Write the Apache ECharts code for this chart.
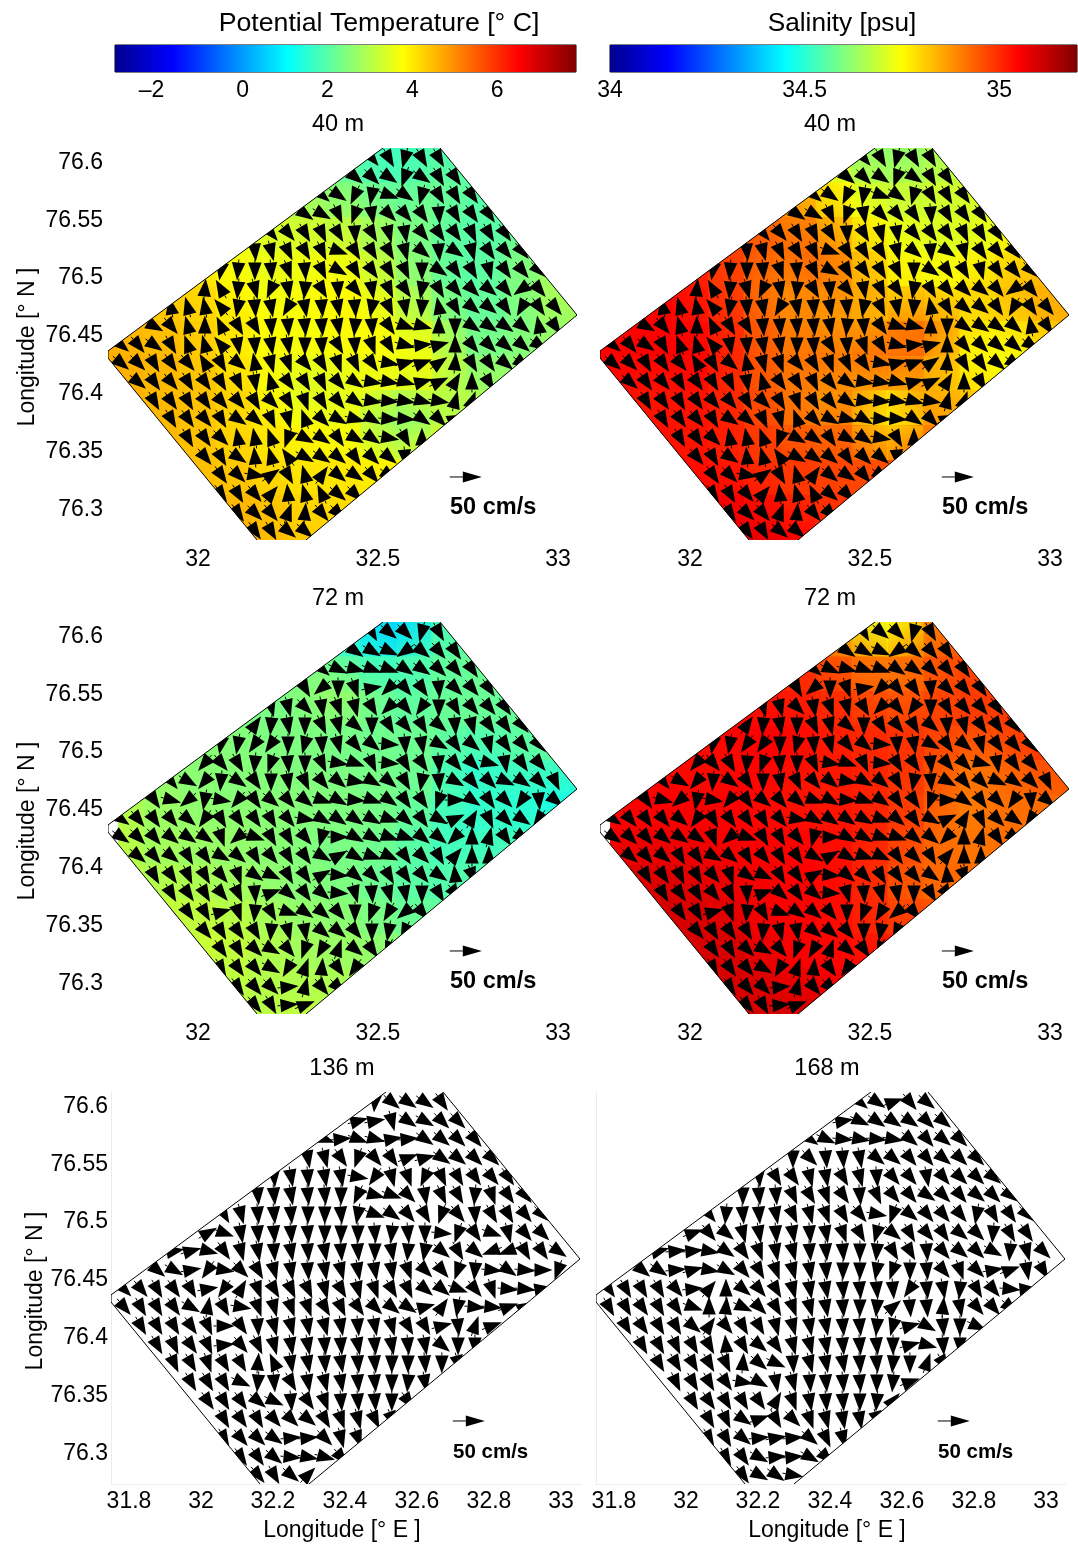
<!DOCTYPE html>
<html><head><meta charset="utf-8">
<style>html,body{margin:0;padding:0;background:#fff}#c{width:1078px;height:1545px}</style>
<script src="https://cdn.jsdelivr.net/npm/echarts@6/dist/echarts.min.js"></script>
</head><body><div id="c"></div><script>
const FONT='"Liberation Sans",Arial,sans-serif';
const xTicksTop=[32,32.5,33];
const xTicksBottom=[31.8,32,32.2,32.4,32.6,32.8,33];
const yTicks=[76.3,76.35,76.4,76.45,76.5,76.55,76.6];
const tempTicks=[-2,0,2,4,6];
const salTicks=[34,34.5,35];
const tempRange=[-3.01,7.86];
const salRange=[34,35.2];
const depthLabels=['40 m','40 m','72 m','72 m','136 m','168 m'];

const arrowLons=[31.786,31.833,31.878,31.925,31.972,32.019,32.064,32.111,32.158,32.203,32.25,32.297,32.344,32.389,32.436,32.483,32.53,32.575,32.622,32.669,32.714,32.761,32.808,32.853,32.9,32.947,32.992,33.039];
const arrowLats=[76.6017,76.5853,76.5697,76.5533,76.5369,76.5213,76.5048,76.4884,76.4728,76.4564,76.44,76.4244,76.408,76.3915,76.376,76.3595,76.3431,76.3275,76.3111,76.2946,76.2791];
const rowFirstCol=[15,14,12,11,9,8,6,5,3,2,0,0,1,2,3,4,5,6,6,7,8];

// current headings, degrees clockwise from north
const heading40=[
[140,150,195,150,150],
[130,135,125,200,125,150,145],
[130,125,205,190,110,125,195,150,150,145],
[125,120,155,200,170,135,140,145,175,150,145,145],
[140,140,150,155,150,175,150,165,170,140,145,145,155,150,145],
[175,165,155,150,155,110,150,150,150,165,130,175,125,165,145,140,140],
[190,185,180,175,160,175,155,120,150,145,150,155,180,125,145,150,165,145,140,135],
[5,330,185,165,205,170,185,150,175,140,170,155,145,190,150,140,135,130,140,235,140],
[350,345,350,320,190,175,170,210,170,175,170,175,190,155,170,185,350,150,130,130,145,210,145,140],
[120,140,345,0,335,150,150,175,175,175,175,170,185,175,145,110,105,0,180,125,125,125,130,350,145],
[130,140,125,150,340,345,320,170,175,170,170,180,175,150,175,160,150,105,85,75,0,140,135,130,130,125],
[130,135,150,145,140,330,150,130,350,165,160,140,150,160,155,145,100,75,70,55,5,150,145,130,125],
[130,145,140,150,145,150,155,170,345,145,150,155,140,125,100,100,105,75,65,30,0,150],
[150,145,150,145,140,140,150,135,150,160,150,140,125,100,95,100,105,100,15,20],
[150,145,140,150,125,130,155,165,340,135,120,105,120,95,95,125,135,65],
[150,145,135,350,350,340,200,120,125,145,120,125,100,150,0],
[140,150,125,355,345,325,120,125,130,145,135,130,175],
[145,135,100,55,150,345,35,130,125,140,125],
[145,150,140,40,355,345,335,130,135],
[145,135,140,20,5,140,135],
[145,150,130,130]];
const heading72=[
[150,130,135,195,150],
[125,120,115,235,130,140,145],
[130,115,105,110,110,125,125,135,140,145],
[150,230,180,160,80,225,140,145,175,135,140,145],
[165,165,135,170,160,165,150,225,140,215,180,150,140,140,145],
[35,185,170,180,155,165,130,180,150,140,150,130,175,165,145,145,140],
[190,190,215,215,180,195,175,165,140,130,95,175,170,120,145,130,165,145,140,140],
[220,140,150,185,200,175,180,155,100,110,155,95,150,145,175,140,135,105,170,145,140],
[140,120,220,185,125,145,180,170,155,140,130,100,120,130,150,190,175,120,140,135,115,125,135,155],
[145,105,230,190,100,220,145,130,140,130,110,120,95,110,125,145,145,200,90,125,145,135,215,175,130],
[125,140,145,140,130,215,150,145,145,150,140,100,120,125,125,120,110,130,145,120,65,30,155,135,125,215],
[125,135,140,130,125,125,160,230,110,150,150,140,195,90,120,120,110,110,130,130,225,0,15,145,125],
[130,140,130,150,145,120,130,150,140,150,145,120,60,120,110,115,145,135,150,40,0,0],
[150,145,155,150,140,160,125,115,150,145,60,95,130,135,150,145,140,125,355,160],
[150,145,150,140,155,175,70,130,145,130,95,165,175,165,170,180,150,140],
[145,150,75,160,185,150,110,125,130,140,180,200,210,230,140],
[140,150,145,150,185,165,170,130,130,140,180,190,205],
[145,150,135,120,140,200,210,20,130,145,200],
[150,145,140,120,210,20,5,145,215],
[145,140,135,85,15,140,135],
[140,150,85,70]];
const heading136=[
[185,130,125,125,145],
[75,80,165,125,120,135,135],
[110,85,110,105,80,85,125,130,135,140],
[170,165,145,200,140,145,70,75,125,130,135,135],
[175,170,175,170,170,100,215,165,160,205,155,150,145,140,145],
[175,175,170,175,175,180,205,105,110,135,170,155,150,185,160,145,140],
[150,165,175,175,175,180,180,175,190,110,125,140,150,200,140,175,150,150,140,135],
[60,110,170,175,175,175,175,180,180,180,175,185,175,180,95,200,145,110,165,140,135],
[80,75,105,145,165,170,175,170,175,170,175,175,180,170,185,190,130,150,130,250,250,150,145,125],
[130,120,80,215,100,135,150,165,170,175,170,165,170,170,170,160,135,140,200,185,95,125,95,90,200],
[135,140,150,145,150,80,215,30,160,150,155,155,165,150,165,160,150,155,130,130,110,140,160,95,95,80],
[140,150,150,145,120,10,150,100,160,165,160,160,150,155,145,135,130,125,75,35,190,95,95,70,60],
[150,150,150,145,155,90,145,175,165,165,170,165,170,175,170,165,150,150,75,175,20,70],
[150,155,145,155,85,140,155,165,170,170,175,175,170,175,170,175,170,130,180,180],
[155,150,160,150,150,5,335,170,170,175,170,175,175,180,180,175,180,165],
[150,150,150,115,185,175,150,170,165,170,175,175,180,185,170],
[145,150,145,130,115,175,145,160,175,175,175,180,145],
[150,145,150,140,135,130,150,160,165,155,160],
[150,140,135,125,85,85,135,165,160],
[145,145,130,95,100,105,140],
[140,150,130,45]];
const heading168=[
[130,125,70,140,130],
[80,115,125,125,125,135,130],
[125,115,95,100,95,100,130,140,130,135],
[180,135,175,175,170,130,130,140,140,130,135,135],
[175,150,145,165,170,150,165,175,140,140,170,140,135,135,130],
[180,175,175,155,150,160,145,175,155,140,140,125,135,140,130,135,130],
[140,185,175,175,170,155,165,160,150,140,100,200,130,140,140,140,190,150,145,135],
[70,140,130,165,170,175,170,175,170,160,150,195,130,150,140,145,130,135,185,150,145],
[75,85,85,100,125,145,160,170,165,175,175,175,180,185,150,150,175,140,130,135,120,185,165,135],
[130,125,85,75,100,120,140,150,160,165,170,175,180,180,190,200,180,175,140,160,135,80,70,170,150],
[145,150,150,150,140,85,40,0,130,140,150,165,170,170,175,175,175,175,215,175,170,185,150,140,95,85],
[150,150,145,150,145,110,0,5,115,135,150,160,165,170,175,180,185,50,175,175,5,170,140,140,130],
[150,145,150,150,130,35,140,150,150,165,165,170,170,175,175,185,195,75,120,175,180,115],
[150,150,155,150,150,355,150,130,145,165,165,170,175,175,175,180,75,105,175,180],
[150,150,150,150,155,5,130,115,175,165,170,170,175,175,185,180,20,150],
[155,150,150,145,100,120,170,165,175,175,175,175,180,185,70],
[150,145,150,150,145,30,160,170,175,175,180,185,40],
[150,155,125,70,150,135,160,165,170,170,165],
[150,150,130,85,80,85,130,155,165],
[150,145,120,85,85,120,135],
[145,120,125,100]];
const speed40=33, speed72=33, speed136=33, speed168=33;
const scaleArrow=[32.744,76.3258,90,50];
const scaleLabelPos=[32.7,76.299];

// colour fields on a coarse lon/lat table
const heatLons=[31.75,31.85,31.95,32.05,32.15,32.25,32.35,32.45,32.55,32.65,32.75,32.85,32.95,33.05];
const heatLats=[76.61,76.58,76.55,76.52,76.49,76.46,76.43,76.40,76.37,76.34,76.31,76.28,76.25];
const temp40=[
[2.6,2.6,2.6,2.5,2.4,2.2,2.0,1.8,1.7,1.8,1.9,2.0,2.0,2.0],
[3.2,3.2,3.2,3.0,2.8,2.6,2.4,2.2,1.8,2.3,2.0,2.0,2.0,2.0],
[3.6,3.6,3.6,3.4,3.3,3.2,3.0,2.8,2.5,2.2,2.0,2.0,2.2,2.2],
[4.0,4.0,4.0,3.8,3.6,3.5,3.6,3.4,2.6,2.3,1.9,2.2,2.5,2.6],
[4.3,4.3,4.3,4.0,3.6,3.6,3.8,3.8,3.0,2.4,2.0,2.2,2.8,3.0],
[4.6,4.4,4.4,4.2,3.9,3.7,3.8,3.9,3.6,3.0,2.2,2.2,2.6,2.8],
[4.7,4.6,4.5,4.2,3.8,3.7,3.6,3.7,3.7,3.8,2.4,2.5,2.6,2.8],
[4.7,4.5,4.5,4.4,4.1,3.4,3.4,3.6,3.4,3.2,2.9,2.8,2.8,2.8],
[4.7,4.6,4.5,4.3,4.1,3.9,3.7,3.5,2.0,3.0,3.0,3.0,3.0,3.0],
[4.6,4.6,4.5,4.4,4.2,4.0,4.0,3.9,3.8,3.6,3.4,3.4,3.4,3.4],
[4.6,4.6,4.5,4.5,4.5,4.2,4.1,4.1,4.0,3.9,3.8,3.8,3.8,3.8],
[4.6,4.6,4.6,4.6,4.6,4.4,4.3,4.2,4.2,4.1,4.0,4.0,4.0,4.0],
[4.6,4.6,4.6,4.6,4.6,4.4,4.3,4.2,4.2,4.1,4.0,4.0,4.0,4.0]];
const sal40=[
[34.85,34.85,34.85,34.85,34.8,34.75,34.7,34.62,34.6,34.62,34.65,34.65,34.65,34.65],
[34.95,34.95,34.95,34.92,34.88,34.85,34.8,34.7,34.66,34.68,34.7,34.7,34.7,34.7],
[35.0,35.0,35.0,34.97,34.95,34.92,34.85,34.78,34.72,34.7,34.7,34.72,34.75,34.75],
[35.03,35.03,35.03,35.0,34.97,34.92,34.95,34.85,34.75,34.73,34.72,34.75,34.8,34.8],
[35.05,35.05,35.05,35.0,34.95,34.88,34.9,34.88,34.8,34.75,34.78,34.82,34.85,34.85],
[35.05,35.05,35.05,35.03,34.98,34.9,34.88,34.85,34.85,34.95,34.8,34.78,34.82,34.85],
[35.05,35.05,35.05,35.05,34.98,34.92,34.92,34.92,34.95,34.9,34.78,34.72,34.75,34.8],
[35.05,35.03,35.03,35.03,34.98,34.92,34.88,34.86,34.82,34.85,34.8,34.78,34.78,34.78],
[35.05,35.03,35.03,35.03,35.0,34.95,34.9,34.92,34.7,34.88,34.88,34.88,34.88,34.88],
[35.05,35.05,35.03,35.03,35.0,34.98,34.98,34.95,34.95,34.95,34.95,34.95,34.95,34.95],
[35.05,35.05,35.05,35.05,35.05,35.0,34.98,34.98,34.98,34.98,34.98,34.98,34.98,34.98],
[35.07,35.07,35.07,35.07,35.07,35.07,35.03,35.0,35.0,35.0,35.0,35.0,35.0,35.0],
[35.07,35.07,35.07,35.07,35.07,35.07,35.03,35.0,35.0,35.0,35.0,35.0,35.0,35.0]];
const temp72=[
[2.4,2.4,2.4,2.4,2.2,2.0,1.6,1.2,-0.2,1.6,2.0,2.2,2.2,2.2],
[2.5,2.5,2.5,2.5,2.4,2.3,2.2,1.5,1.7,2.0,2.2,2.2,2.2,2.2],
[2.5,2.5,2.5,2.5,2.4,2.3,2.8,2.6,1.9,2.1,2.2,2.2,2.2,2.2],
[2.6,2.6,2.6,2.5,2.4,2.4,2.4,2.3,2.2,2.2,2.2,2.1,2.2,2.2],
[2.7,2.7,2.6,2.5,2.5,2.4,2.4,2.3,2.3,2.2,1.5,1.8,2.0,1.9],
[3.0,2.8,2.6,2.5,2.5,2.5,2.5,2.4,2.3,2.1,1.6,1.6,1.3,1.2],
[3.3,2.8,2.7,2.7,2.6,2.5,2.4,2.4,2.2,1.8,1.6,1.7,1.6,1.6],
[3.2,2.9,2.8,2.7,2.6,2.5,2.4,2.3,2.1,1.9,1.9,1.9,1.9,1.9],
[3.2,3.1,3.1,3.0,2.8,2.6,2.5,2.4,2.1,2.0,2.0,2.0,2.0,2.0],
[3.2,3.2,3.2,3.2,3.1,2.8,2.7,2.6,2.4,2.3,2.3,2.3,2.3,2.3],
[3.2,3.2,3.2,3.2,3.0,2.9,2.8,2.8,2.7,2.7,2.7,2.7,2.7,2.7],
[3.2,3.2,3.2,3.2,3.0,3.1,3.1,3.0,3.0,3.0,3.0,3.0,3.0,3.0],
[3.2,3.2,3.2,3.2,3.0,3.1,3.1,3.0,3.0,3.0,3.0,3.0,3.0,3.0]];
const sal72=[
[35.02,35.02,35.02,35.02,35.0,34.95,34.9,34.78,34.62,34.85,34.95,34.97,34.97,34.97],
[35.03,35.03,35.03,35.03,35.02,35.0,34.98,34.9,34.9,34.93,34.97,34.97,34.97,34.97],
[35.04,35.04,35.04,35.04,35.03,35.02,35.0,34.98,34.92,34.95,34.98,34.98,34.98,34.98],
[35.05,35.05,35.05,35.05,35.05,35.05,35.03,35.0,35.0,34.98,34.98,34.98,35.0,35.0],
[35.05,35.05,35.05,35.03,35.05,35.05,35.03,35.02,35.0,34.98,34.92,34.92,34.97,34.97],
[35.05,35.05,35.05,35.05,35.05,35.03,35.02,35.02,35.0,34.97,34.9,34.92,34.92,34.93],
[35.05,35.06,35.06,35.06,35.05,35.05,35.04,35.03,35.0,34.95,34.9,34.92,34.92,34.92],
[35.08,35.08,35.08,35.07,35.06,35.05,35.05,35.03,34.98,34.93,34.92,34.92,34.92,34.92],
[35.1,35.1,35.1,35.08,35.07,35.05,35.05,35.03,34.97,34.93,34.93,34.93,34.93,34.93],
[35.1,35.1,35.1,35.1,35.08,35.05,35.05,35.03,35.0,35.0,35.0,35.0,35.0,35.0],
[35.1,35.1,35.1,35.1,35.1,35.07,35.05,35.05,35.05,35.05,35.05,35.05,35.05,35.05],
[35.1,35.1,35.1,35.1,35.1,35.1,35.1,35.05,35.05,35.05,35.05,35.05,35.05,35.05],
[35.1,35.1,35.1,35.1,35.1,35.1,35.1,35.05,35.05,35.05,35.05,35.05,35.05,35.05]];

const outlineEdges=[
[[31.75,76.4348],[32.5139,76.6104]],
[[32.6722,76.6104],[33.0528,76.4659],[32.3,76.2713]],
[[32.1639,76.2713],[31.75,76.4287],[31.75,76.4348]]];
const domainArea=[[31.75,76.4348],[32.5139,76.6104],[32.6722,76.6104],[33.0528,76.4659],[32.3,76.2713],[32.1639,76.2713],[31.75,76.4287]];
const fillArea72=[[31.778,76.4412],[32.5139,76.6104],[32.6722,76.6104],[33.0528,76.4659],[32.3,76.2713],[32.1639,76.2713],[31.778,76.4183]];

const jetStops=[[0,'#00008f'],[0.125,'#0000ff'],[0.375,'#00ffff'],[0.625,'#ffff00'],[0.875,'#ff0000'],[1,'#800000']];
function hex(c){return [1,3,5].map(i=>parseInt(c.substr(i,2),16));}
function jet(v,r){
  let t=Math.max(0,Math.min(1,(v-r[0])/(r[1]-r[0])));
  for(let i=1;i<jetStops.length;i++){
    if(t<=jetStops[i][0]){
      const a=jetStops[i-1],b=jetStops[i],f=(t-a[0])/(b[0]-a[0]),A=hex(a[1]),B=hex(b[1]);
      return 'rgb('+A.map((x,k)=>Math.round(x+(B[k]-x)*f)).join(',')+')';
    }
  }
  return '#800000';
}
const PX_PER_CMS=32/50;
function arrowChildren(center,deg,speed,hl,hw){
  const L=speed*PX_PER_CMS,r=deg*Math.PI/180,dx=Math.sin(r),dy=-Math.cos(r);
  const tail=[center[0]-dx*L/2,center[1]-dy*L/2],tip=[center[0]+dx*L/2,center[1]+dy*L/2];
  const b=[tip[0]-dx*hl,tip[1]-dy*hl],nx=-dy,ny=dx,w=hw/2;
  return [
    {type:'line',shape:{x1:tail[0],y1:tail[1],x2:b[0],y2:b[1]},style:{stroke:'#000',lineWidth:1}},
    {type:'polygon',shape:{points:[tip,[b[0]+nx*w,b[1]+ny*w],[b[0]-nx*w,b[1]-ny*w]]},style:{fill:'#000'}}
  ];
}
const axisFont={fontFamily:FONT,fontSize:23,color:'#000'};
const panels=[
 {left:108,top:148,w:469,h:392,field:temp40,range:tempRange,head:heading40,speed:speed40,area:domainArea,yl:true,bottom:false,labelFont:23.5,lm:5},
 {left:600,top:148,w:469,h:392,field:sal40,range:salRange,head:heading40,speed:speed40,area:domainArea,yl:false,bottom:false,labelFont:23.5},
 {left:108,top:622,w:469,h:392,field:temp72,range:tempRange,head:heading72,speed:speed72,area:fillArea72,yl:true,bottom:false,labelFont:23.5,lm:5},
 {left:600,top:622,w:469,h:392,field:sal72,range:salRange,head:heading72,speed:speed72,area:fillArea72,yl:false,bottom:false,labelFont:23.5},
 {left:111,top:1092,w:470,h:392,field:null,head:heading136,speed:speed136,yl:true,bottom:true,labelFont:20.5,lm:3},
 {left:596,top:1092,w:470,h:392,field:null,head:heading168,speed:speed168,yl:false,bottom:true,labelFont:20.5}
];
const grid=[],xAxis=[],yAxis=[],series=[];
function trim(v){return String(+(+v).toFixed(3));}
panels.forEach((p,i)=>{
  grid.push({left:p.left,top:p.top,width:p.w,height:p.h,show:false,outerBoundsMode:'none'});
  const faint={show:p.bottom,lineStyle:{color:'#ececec',width:1}};
  xAxis.push({gridIndex:i,type:'value',min:31.75,max:31.75+p.w/360,
    axisLine:Object.assign({onZero:false},faint),axisTick:{show:false},splitLine:{show:false},
    axisLabel:Object.assign({},axisFont,{customValues:p.bottom?xTicksBottom:xTicksTop,formatter:trim,margin:p.bottom?6:8,hideOverlap:false})});
  yAxis.push({gridIndex:i,type:'value',min:76.6+(160-148)/1156-392/1156,max:76.6+(160-148)/1156,
    axisLine:Object.assign({onZero:false},faint),axisTick:{show:false},splitLine:{show:false},
    axisLabel:p.yl?Object.assign({},axisFont,{customValues:yTicks,formatter:trim,margin:p.lm,hideOverlap:false,verticalAlign:'top',padding:[-9,0,0,0]}):{show:false}});
  if(p.field){
    const cells=[];
    for(let r=0;r<heatLats.length-1;r++)for(let c=0;c<heatLons.length-1;c++){
      const f=p.field;
      cells.push([heatLons[c],heatLats[r],heatLons[c+1],heatLats[r+1],f[r][c],f[r][c+1],f[r+1][c],f[r+1][c+1]]);
    }
    const range=p.range,area=p.area;
    series.push({type:'custom',coordinateSystem:'cartesian2d',xAxisIndex:i,yAxisIndex:i,z:1,silent:true,animation:false,clip:true,
      data:cells,encode:{x:0,y:1},
      renderItem:(ctx,api)=>{
        const a=api.coord([api.value(0),api.value(1)]),b=api.coord([api.value(2),api.value(3)]);
        const v00=api.value(4),v10=api.value(5),v01=api.value(6),v11=api.value(7);
        const x=a[0],y=a[1],w=b[0]-a[0],h=b[1]-a[1];
        return {type:'group',clipPath:{type:'polygon',shape:{points:area.map(q=>api.coord(q))}},children:[
          {type:'rect',shape:{x:x-.6,y:y-.6,width:w+1.2,height:h+1.2},style:{fill:{type:'linear',x:0,y:0,x2:1,y2:0,colorStops:[{offset:0,color:jet((v00+v01)/2,range)},{offset:1,color:jet((v10+v11)/2,range)}]}}},
          {type:'rect',shape:{x:x,y:y,width:w,height:h},style:{opacity:.5,fill:{type:'linear',x:0,y:0,x2:0,y2:1,colorStops:[{offset:0,color:jet((v00+v10)/2,range)},{offset:1,color:jet((v01+v11)/2,range)}]}}}
        ]};
      }});
  }
  const arrows=[];
  p.head.forEach((row,r)=>row.forEach((deg,k)=>{
    const lon=arrowLons[rowFirstCol[r]+k];
    if(lon!==undefined)arrows.push([lon,arrowLats[r],deg,p.speed]);
  }));
  series.push({type:'custom',coordinateSystem:'cartesian2d',xAxisIndex:i,yAxisIndex:i,z:3,silent:true,animation:false,clip:true,
    data:arrows,encode:{x:0,y:1},
    renderItem:(ctx,api)=>({type:'group',clipPath:{type:'polygon',shape:{points:domainArea.map(q=>api.coord(q))}},
      children:arrowChildren(api.coord([api.value(0),api.value(1)]),api.value(2),api.value(3),18,13.5)})});
  series.push({type:'custom',coordinateSystem:'cartesian2d',xAxisIndex:i,yAxisIndex:i,z:4,silent:true,animation:false,clip:true,
    data:outlineEdges.map((e,k)=>[k]),encode:{x:-1,y:-1},
    renderItem:(ctx,api)=>({type:'polyline',shape:{points:outlineEdges[api.value(0)].map(q=>api.coord(q))},style:{stroke:'#000',lineWidth:1,fill:null}})});
  const fs=p.labelFont;
  series.push({type:'custom',coordinateSystem:'cartesian2d',xAxisIndex:i,yAxisIndex:i,z:5,silent:true,animation:false,clip:false,
    data:[scaleArrow],encode:{x:0,y:1},
    renderItem:(ctx,api)=>{
      const lab=api.coord(scaleLabelPos);
      return {type:'group',children:arrowChildren(api.coord([api.value(0),api.value(1)]),api.value(2),api.value(3),19,11).concat([
        {type:'text',style:{text:'50 cm/s',x:lab[0],y:lab[1],font:'bold '+fs+'px '+FONT,fill:'#000',align:'left',verticalAlign:'middle'}}
      ])};
    }});
});
// colour bars
const bars=[{left:115,w:462,range:tempRange,ticks:tempTicks},{left:610,w:468,range:salRange,ticks:salTicks}];
bars.forEach(b=>{
  const g=grid.length;
  grid.push({left:b.left,top:45,width:b.w-1,height:27,show:true,borderColor:'#000',borderWidth:1,backgroundColor:'transparent',outerBoundsMode:'none'});
  xAxis.push({gridIndex:g,type:'value',min:b.range[0],max:b.range[1],axisLine:{show:false,onZero:false},splitLine:{show:false},
    axisTick:{inside:true,length:3,lineStyle:{color:'#000'},customValues:b.ticks},
    axisLabel:Object.assign({},axisFont,{customValues:b.ticks,margin:7,hideOverlap:false,formatter:v=>v<0?String(v).replace('-','\u2013')+'\u2007':String(v)})});
  yAxis.push({gridIndex:g,type:'value',min:0,max:1,show:false});
  series.push({type:'custom',coordinateSystem:'cartesian2d',xAxisIndex:xAxis.length-1,yAxisIndex:g,z:1,silent:true,animation:false,
    data:[[b.range[0],0,b.range[1],1]],encode:{x:0,y:1},
    renderItem:(ctx,api)=>{
      const a=api.coord([api.value(0),api.value(3)]),c=api.coord([api.value(2),api.value(1)]);
      return {type:'rect',shape:{x:a[0],y:a[1],width:c[0]-a[0],height:c[1]-a[1]},
        style:{fill:{type:'linear',x:0,y:0,x2:1,y2:0,colorStops:jetStops.map(s=>({offset:s[0],color:s[1]}))}}};
    }});
});
function ttl(text,x,y,size){return {text,left:x,top:y-size*0.42,textAlign:'center',padding:0,textStyle:{fontFamily:FONT,fontSize:size,fontWeight:'normal',color:'#000'}};}
const titles=[ttl('Potential Temperature [° C]',379,21,26.7),ttl('Salinity [psu]',842,22,26.2),
 ttl(depthLabels[0],338,122,23.5),ttl(depthLabels[1],830,122,23.5),ttl(depthLabels[2],338,596,23.5),ttl(depthLabels[3],830,596,23.5),
 ttl(depthLabels[4],342,1066,23.5),ttl(depthLabels[5],827,1066,23.5)];
function axisText(text,x,y,rot){return {type:'text',x,y,rotation:rot,style:{text,font:'23px '+FONT,fill:'#000',align:'center',verticalAlign:'middle'}};}
const axisNames=[
 axisText('Longitude [° N ]',28,347,Math.PI/2),axisText('Longitude [° N ]',28,821,Math.PI/2),axisText('Longitude [° N ]',36,1291,Math.PI/2),
 axisText('Longitude [° E ]',342,1531,0),axisText('Longitude [° E ]',827,1531,0)];
const chart=echarts.init(document.getElementById('c'),null,{renderer:'canvas',width:1078,height:1545});
chart.setOption({animation:false,backgroundColor:'#fff',title:titles,grid,xAxis,yAxis,series,graphic:axisNames});
</script></body></html>
